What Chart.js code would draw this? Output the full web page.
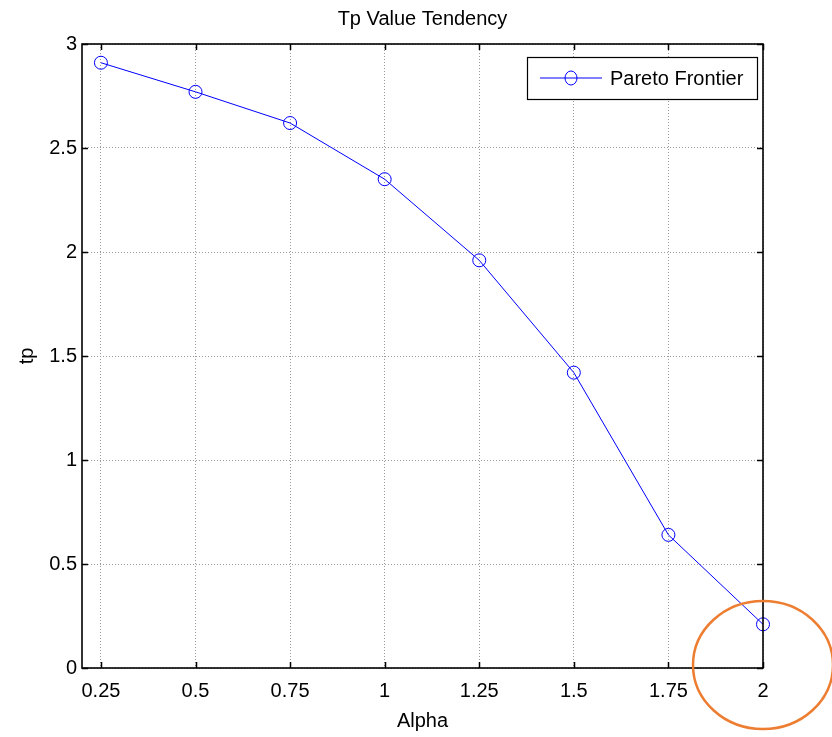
<!DOCTYPE html>
<html>
<head>
<meta charset="utf-8">
<script src="https://cdn.jsdelivr.net/npm/chart.js@4.4.0/dist/chart.umd.min.js"></script>
<style>
  body { margin: 0; background: #fff; }
</style>
</head>
<body>
<canvas id="tp" width="832" height="737"></canvas>
<script>
// data
const alpha = [0.25, 0.5, 0.75, 1, 1.25, 1.5, 1.75, 2];
const tpValues = [2.91, 2.77, 2.62, 2.35, 1.96, 1.42, 0.64, 0.21];
const xTicks = [0.25, 0.5, 0.75, 1, 1.25, 1.5, 1.75, 2];
const yTicks = [0, 0.5, 1, 1.5, 2, 2.5, 3];

const FONT = '"Liberation Sans", Arial, Helvetica, sans-serif';
const BLUE = '#0000ff';

// box, inner ticks, title, legend and the orange ring
const matlabFrame = {
    id: 'matlabFrame',
    afterDraw: (chart) => {
        const {ctx, chartArea: a, scales: {x, y}} = chart;
        ctx.save();

        // inner tick marks on all four sides
        ctx.strokeStyle = '#000';
        ctx.lineWidth = 1.5;
        ctx.beginPath();
        xTicks.forEach(v => {
            const px = Math.round(x.getPixelForValue(v)) + 0.5;
            ctx.moveTo(px, a.bottom); ctx.lineTo(px, a.bottom - 6);
            ctx.moveTo(px, a.top); ctx.lineTo(px, a.top + 6);
        });
        yTicks.forEach(v => {
            const py = Math.round(y.getPixelForValue(v)) + 0.5;
            ctx.moveTo(a.left, py); ctx.lineTo(a.left + 6, py);
            ctx.moveTo(a.right, py); ctx.lineTo(a.right - 6, py);
        });
        ctx.stroke();

        // box
        ctx.lineWidth = 1.6;
        ctx.strokeRect(a.left, a.top, a.right - a.left, a.bottom - a.top);

        // title
        ctx.fillStyle = '#000';
        ctx.font = '20px ' + FONT;
        ctx.textAlign = 'center';
        ctx.textBaseline = 'middle';
        ctx.fillText('Tp Value Tendency', (a.left + a.right) / 2, 19);

        // legend
        const lx = a.right - 236, ly = a.top + 13, lw = 230, lh = 42;
        ctx.fillStyle = '#fff';
        ctx.fillRect(lx, ly, lw, lh);
        ctx.lineWidth = 1.2;
        ctx.strokeStyle = '#000';
        ctx.strokeRect(lx + 0.5, ly + 0.5, lw, lh);
        const my = ly + lh / 2;
        ctx.strokeStyle = BLUE;
        ctx.lineWidth = 1;
        ctx.beginPath();
        ctx.moveTo(lx + 13, my); ctx.lineTo(lx + 75, my);
        ctx.stroke();
        ctx.beginPath();
        ctx.ellipse(lx + 44, my, 6, 7, 0, 0, Math.PI * 2);
        ctx.stroke();
        ctx.fillStyle = '#000';
        ctx.font = '20px ' + FONT;
        ctx.textAlign = 'left';
        ctx.fillText('Pareto Frontier', lx + 83, my + 1);

        // orange ring around the last point
        ctx.strokeStyle = '#ed7d31';
        ctx.lineWidth = 2.5;
        ctx.beginPath();
        ctx.ellipse(x.getPixelForValue(2), y.getPixelForValue(0) - 3, 70, 64, 0, 0, Math.PI * 2);
        ctx.stroke();

        ctx.restore();
    }
};

const bg = {
    id: 'bg',
    beforeDraw: (chart) => {
        const {ctx} = chart;
        ctx.save();
        ctx.fillStyle = '#fff';
        ctx.fillRect(0, 0, chart.width, chart.height);
        ctx.restore();
    }
};

const grid = {
    color: '#9a9a9a',
    lineWidth: 1,
    drawTicks: false
};

new Chart(document.getElementById('tp'), {
    type: 'line',
    data: {
        datasets: [{
            label: 'Pareto Frontier',
            data: alpha.map((a, i) => ({x: a, y: tpValues[i]})),
            borderColor: BLUE,
            borderWidth: 1,
            pointStyle: 'circle',
            pointRadius: 6.5,
            pointBorderColor: BLUE,
            pointBorderWidth: 1,
            pointBackgroundColor: 'rgba(0,0,0,0)',
            tension: 0,
            clip: false
        }]
    },
    options: {
        responsive: false,
        animation: false,
        layout: { padding: { top: 44, right: 69, left: 0, bottom: 0 } },
        plugins: {
            legend: { display: false },
            tooltip: { enabled: false }
        },
        scales: {
            x: {
                type: 'linear',
                min: 0.2,
                max: 2,
                afterBuildTicks: (s) => { s.ticks = xTicks.map(v => ({value: v})); },
                afterFit: (s) => { s.height = 69; },
                grid: grid,
                border: { display: false, dash: [1, 2] },
                ticks: {
                    color: '#000',
                    padding: 11,
                    maxRotation: 0,
                    autoSkip: false,
                    font: { family: FONT, size: 20 },
                    callback: (v) => String(v)
                },
                title: {
                    display: true,
                    text: 'Alpha',
                    color: '#000',
                    padding: { top: 0, bottom: 4 },
                    font: { family: FONT, size: 20 }
                }
            },
            y: {
                min: 0,
                max: 3,
                afterBuildTicks: (s) => { s.ticks = yTicks.map(v => ({value: v})); },
                afterFit: (s) => { s.width = 82; },
                grid: grid,
                border: { display: false, dash: [1, 2] },
                ticks: {
                    color: '#000',
                    padding: 5,
                    autoSkip: false,
                    font: { family: FONT, size: 20 },
                    callback: (v) => String(v)
                },
                title: {
                    display: true,
                    text: 'tp',
                    color: '#000',
                    padding: { top: 15, bottom: 0 },
                    font: { family: FONT, size: 20 }
                }
            }
        }
    },
    plugins: [bg, matlabFrame]
});
</script>
</body>
</html>
